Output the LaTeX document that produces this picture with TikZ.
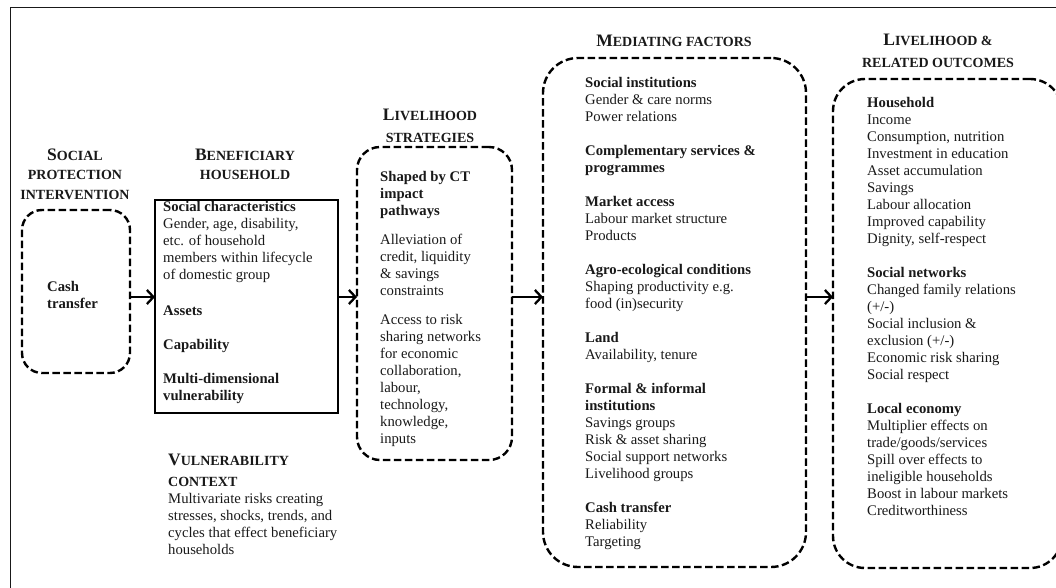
\documentclass[tikz,border=0pt]{standalone}
\usepackage{fontspec}
\setmainfont{Liberation Serif}
\usetikzlibrary{arrows.meta}
\newcommand{\bigc}[1]{{\fontsize{17.5}{20}\selectfont #1}}
\begin{document}
\begin{tikzpicture}[x=1pt,y=-1pt,
  dbox/.style={draw=black, line width=2.4pt, dash pattern=on 7.5pt off 3.5pt, inner sep=0pt, outer sep=0pt},
  sbox/.style={draw=black, line width=2.3pt, inner sep=0pt, outer sep=0pt},
  txt/.style={font=\fontsize{14.7}{17}\selectfont, align=left, inner sep=0pt, text=black!90},
  hdr/.style={font=\bfseries\fontsize{14}{19.5}\selectfont, align=center, inner sep=0pt, text=black!90},
  arr/.style={draw=black, line width=2.3pt, -{Straight Barb[length=6.5pt,width=14pt]}}
]
\useasboundingbox (0,0) rectangle (1056,588);
\clip (0,0) rectangle (1056,588);
% outer frame (cropped)
\draw[line width=1pt, black!90] (10,588) -- (10,8) -- (1056,8);

% boxes
\node[dbox, rounded corners=20pt, minimum width=108pt, minimum height=163pt] (cash) at (76,291.5) {};
\node[sbox, minimum width=183pt, minimum height=213pt] (benef) at (246.5,306.5) {};
\node[dbox, rounded corners=23pt, minimum width=155pt, minimum height=313pt] (strat) at (434.5,303.5) {};
\node[dbox, rounded corners=35pt, minimum width=263pt, minimum height=509pt] (med) at (674.5,312.5) {};
\node[dbox, rounded corners=32pt, minimum width=229pt, minimum height=489pt] (out) at (947.5,323.5) {};

% arrows
\draw[arr] (cash.east |- 0,297) -- (benef.west |- 0,297);
\draw[arr] (benef.east |- 0,297) -- (strat.west |- 0,297);
\draw[arr] (strat.east |- 0,297) -- (med.west |- 0,297);
\draw[arr] (med.east |- 0,297) -- (out.west |- 0,297);

% headers
\node[hdr, anchor=north] (sphead) at (75,148.4) {\bigc{S}OCIAL\\PROTECTION\\INTERVENTION};
\node[hdr, anchor=north] (benhead) at (245,148.4) {\bigc{B}ENEFICIARY\\HOUSEHOLD};
\node[hdr, anchor=north, font=\bfseries\fontsize{14}{22}\selectfont] (strathead) at (430,108.4) {\bigc{L}IVELIHOOD\\STRATEGIES};
\node[hdr, anchor=north] (medhead) at (674,34.4) {\bigc{M}EDIATING FACTORS};
\node[hdr, anchor=north, font=\bfseries\fontsize{14}{22}\selectfont] (outhead) at (938,33.4) {\bigc{L}IVELIHOOD \&\\RELATED OUTCOMES};
\node[hdr, anchor=north west, align=left, font=\bfseries\fontsize{14}{21}\selectfont] (vulnhead) at (168,453.4) {\bigc{V}ULNERABILITY\\CONTEXT};

% texts
\node[txt, anchor=north west] (cashtxt) at (47,281) {\textbf{Cash}\\\textbf{transfer}};

\node[txt, anchor=north west] (benetxt) at (163,201) {\textbf{Social characteristics}\\
Gender, age, disability,\\
etc. of household\\
members within lifecycle\\
of domestic group\\[19pt]
\textbf{Assets}\\[17pt]
\textbf{Capability}\\[17pt]
\textbf{Multi-dimensional}\\
\textbf{vulnerability}};

\node[txt, anchor=north west] (strattxt) at (380,171) {\textbf{Shaped by CT}\\
\textbf{impact}\\
\textbf{pathways}\\[12pt]
Alleviation of\\
credit, liquidity\\
\& savings\\
constraints\\[12pt]
Access to risk\\
sharing networks\\
for economic\\
collaboration,\\
labour,\\
technology,\\
knowledge,\\
inputs};

\node[txt, anchor=north west] (medtxt) at (585,77) {\textbf{Social institutions}\\
Gender \& care norms\\
Power relations\\[17pt]
\textbf{Complementary services \&}\\
\textbf{programmes}\\[17pt]
\textbf{Market access}\\
Labour market structure\\
Products\\[17pt]
\textbf{Agro-ecological conditions}\\
Shaping productivity e.g.\\
food (in)security\\[17pt]
\textbf{Land}\\
Availability, tenure\\[17pt]
\textbf{Formal \& informal}\\
\textbf{institutions}\\
Savings groups\\
Risk \& asset sharing\\
Social support networks\\
Livelihood groups\\[17pt]
\textbf{Cash transfer}\\
Reliability\\
Targeting};

\node[txt, anchor=north west] (outtxt) at (867,97) {\textbf{Household}\\
Income\\
Consumption, nutrition\\
Investment in education\\
Asset accumulation\\
Savings\\
Labour allocation\\
Improved capability\\
Dignity, self-respect\\[17pt]
\textbf{Social networks}\\
Changed family relations\\
(+/-)\\
Social inclusion \&\\
exclusion (+/-)\\
Economic risk sharing\\
Social respect\\[17pt]
\textbf{Local economy}\\
Multiplier effects on\\
trade/goods/services\\
Spill over effects to\\
ineligible households\\
Boost in labour markets\\
Creditworthiness};

\node[txt, anchor=north west] (vulntxt) at (168,493) {Multivariate risks creating\\
stresses, shocks, trends, and\\
cycles that effect beneficiary\\
households};
\end{tikzpicture}
\end{document}
